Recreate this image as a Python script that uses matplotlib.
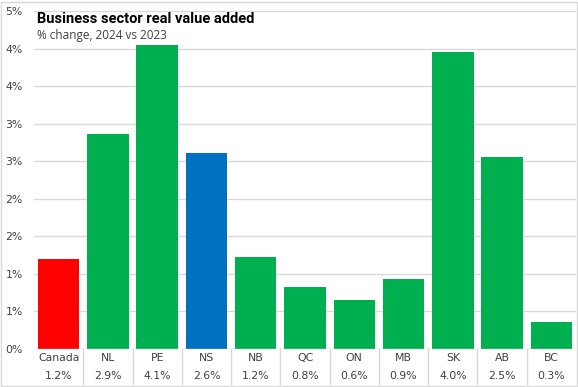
import matplotlib.pyplot as plt
from matplotlib.patches import Rectangle
from matplotlib.ticker import FuncFormatter

regions = ['Canada', 'NL', 'PE', 'NS', 'NB', 'QC', 'ON', 'MB', 'SK', 'AB', 'BC']
growth = [1.2, 2.86, 4.05, 2.61, 1.22, 0.82, 0.65, 0.93, 3.95, 2.55, 0.36]
table_values = ['1.2%', '2.9%', '4.1%', '2.6%', '1.2%', '0.8%', '0.6%', '0.9%', '4.0%', '2.5%', '0.3%']
bar_colors = ['#FF0000', '#00B050', '#00B050', '#0070C0', '#00B050', '#00B050',
              '#00B050', '#00B050', '#00B050', '#00B050', '#00B050']
y_ticks = [0, 0.5, 1.0, 1.5, 2.0, 2.5, 3.0, 3.5, 4.0, 4.5]

W, H = 578, 387
grid_col = '#D9D9D9'
text_col = '#404040'
small = 7.8

fig = plt.figure(figsize=(W / 100, H / 100), dpi=100)
ax = fig.add_axes([34 / W, (H - 349) / H, (576 - 34) / W, (349 - 11) / H])

x = list(range(len(regions)))
ax.bar(x, growth, width=0.84, color=bar_colors, zorder=3)

ax.set_xlim(-0.5, len(regions) - 0.5)
ax.set_ylim(0, 4.5)
ax.set_yticks(y_ticks)
ax.yaxis.set_major_formatter(FuncFormatter(lambda v, p: f'{int(v + 0.5)}%'))
ax.tick_params(axis='y', length=0, pad=8, labelsize=small, labelcolor=text_col)
ax.set_xticks([])
ax.grid(axis='y', color=grid_col, linewidth=1, zorder=0)
for s in ax.spines.values():
    s.set_visible(False)
ax.axhline(0, color=grid_col, linewidth=1, zorder=4)

# data table under the axis
trans = ax.get_xaxis_transform()
for i, (name, val) in enumerate(zip(regions, table_values)):
    ax.text(i, -(358 - 349) / 338, name, transform=trans, ha='center', va='center',
            fontsize=small, color=text_col, clip_on=False)
    ax.text(i, -(376 - 349) / 338, val, transform=trans, ha='center', va='center',
            fontsize=small, color=text_col, clip_on=False)
for i in range(1, len(regions)):
    ax.plot([i - 0.5, i - 0.5], [0, -(384 - 349) / 338], transform=trans,
            color=grid_col, linewidth=1, clip_on=False)

# title block
fig.text(37 / W, 1 - 19 / H, 'Business sector real value added', fontsize=10.5,
         fontweight='bold', family='Roboto', color='black', va='center')
fig.text(37 / W, 1 - 35 / H, '% change, 2024 vs 2023', fontsize=8.5,
         family='Open Sans', color=text_col, va='center')

# figure border
fig.patches.append(Rectangle((1 / W, 1 / H), (W - 2) / W, (H - 3) / H,
                             transform=fig.transFigure, fill=False,
                             edgecolor=grid_col, linewidth=1))

fig.savefig('out.png', dpi=100)
